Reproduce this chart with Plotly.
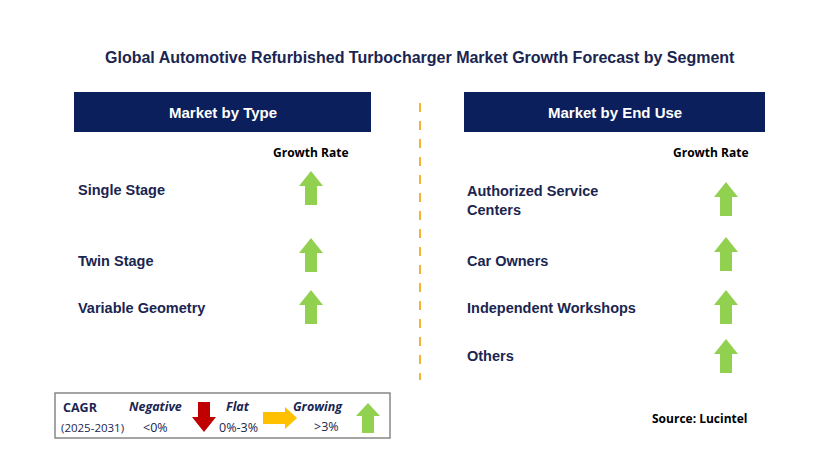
import plotly.graph_objects as go

title = "Global Automotive Refurbished Turbocharger Market Growth Forecast by Segment"
left_header = "Market by Type"
right_header = "Market by End Use"
left_items = ["Single Stage", "Twin Stage", "Variable Geometry"]
left_text_y = [190, 261, 308]
left_arrow_y = [188, 255, 307]
right_items = ["Authorized Service<br>Centers", "Car Owners", "Independent Workshops", "Others"]
right_text_y = [200, 261, 308, 356]
right_arrow_y = [199, 254, 307, 356]
growth = ["up", "up", "up", "up"]

NAVY = "#0B1F5C"
TXT = "#1A2550"
GREEN = "#92D050"

fig = go.Figure()
shapes = []
ann = []

def up_arrow(cx, cy, color=GREEN, h=34, hw=12, sw=6, hh=15):
    t = cy - h/2; b = cy + h/2; m = t + hh
    return dict(type="path", xref="x", yref="y", line=dict(width=0), fillcolor=color,
                path=f"M{cx},{t} L{cx+hw},{m} L{cx+sw},{m} L{cx+sw},{b} L{cx-sw},{b} L{cx-sw},{m} L{cx-hw},{m} Z")

def down_arrow(cx, cy, color, h=34, hw=12, sw=6, hh=15):
    t = cy - h/2; b = cy + h/2; m = b - hh
    return dict(type="path", xref="x", yref="y", line=dict(width=0), fillcolor=color,
                path=f"M{cx},{b} L{cx+hw},{m} L{cx+sw},{m} L{cx+sw},{t} L{cx-sw},{t} L{cx-sw},{m} L{cx-hw},{m} Z")

def right_arrow(cx, cy, color, w=34, hh=12, sw=6, hl=12):
    l = cx - w/2; r = cx + w/2; m = r - hl
    return dict(type="path", xref="x", yref="y", line=dict(width=0), fillcolor=color,
                path=f"M{r},{cy} L{m},{cy-hh} L{m},{cy-sw} L{l},{cy-sw} L{l},{cy+sw} L{m},{cy+sw} L{m},{cy+hh} Z")

def txt(x, y, s, size=14, color=TXT, bold=True, xa="left", family="Liberation Sans", italic=False):
    if bold: s = f"<b>{s}</b>"
    if italic: s = f"<i>{s}</i>"
    ann.append(dict(x=x, y=y, xref="x", yref="y", text=s, showarrow=False, xanchor=xa, yanchor="middle",
                    font=dict(size=size, color=color, family=family), align="left"))

txt(420, 57, title, size=16, xa="center")
for x0, x1, h in [(74, 371, left_header), (464, 765, right_header)]:
    shapes.append(dict(type="rect", x0=x0, x1=x1, y0=92, y1=132, fillcolor=NAVY, line=dict(width=0)))
    txt((x0 + x1) / 2, 112, h, size=15, color="white", xa="center")
shapes.append(dict(type="line", x0=420, x1=420, y0=103, y1=380, line=dict(color="#F5B335", width=2, dash="dash")))

txt(311, 152, "Growth Rate", size=12, color="black", xa="center", family="Open Sans")
txt(711, 152, "Growth Rate", size=12, color="black", xa="center", family="Open Sans")
for s, y, ay in zip(left_items, left_text_y, left_arrow_y):
    txt(76, y, s, size=14.5)
    shapes.append(up_arrow(311, ay))
for s, y, ay in zip(right_items, right_text_y, right_arrow_y):
    txt(465, y, s, size=14.5)
    shapes.append(up_arrow(726, ay))

# legend box
shapes.append(dict(type="rect", x0=55, x1=390, y0=393, y1=438, line=dict(color="#888888", width=1.5), fillcolor="white"))
txt(61, 407, "CAGR", size=12.5, family="Open Sans")
txt(59, 427, "(2025-2031)", size=11.5, bold=False, family="Open Sans")
txt(155, 406, "Negative", size=12.5, xa="center", family="Open Sans", italic=True)
txt(155, 427, "&lt;0%", size=12.5, bold=False, xa="center", family="Open Sans")
shapes.append(down_arrow(204, 417, "#C00000", h=30))
txt(238, 406, "Flat", size=12.5, xa="center", family="Open Sans", italic=True)
txt(238, 427, "0%-3%", size=12.5, bold=False, xa="center", family="Open Sans")
shapes.append(right_arrow(280, 418, "#FFC000", w=34, hh=11, sw=6))
txt(318, 406, "Growing", size=12.5, xa="center", family="Open Sans", italic=True)
txt(326, 426, "&gt;3%", size=12.5, bold=False, xa="center", family="Open Sans")
shapes.append(up_arrow(368, 418, h=30, hw=12, sw=6, hh=13))

txt(750, 418, "Source: Lucintel", size=12, color="black", xa="right", family="Open Sans")

fig.update_layout(width=829, height=467, margin=dict(l=0, r=0, t=0, b=0),
                  plot_bgcolor="white", paper_bgcolor="white", shapes=shapes, annotations=ann,
                  xaxis=dict(range=[8, 837], visible=False, fixedrange=True),
                  yaxis=dict(range=[475, 8], visible=False, fixedrange=True), showlegend=False)
fig.write_html("out.html")
